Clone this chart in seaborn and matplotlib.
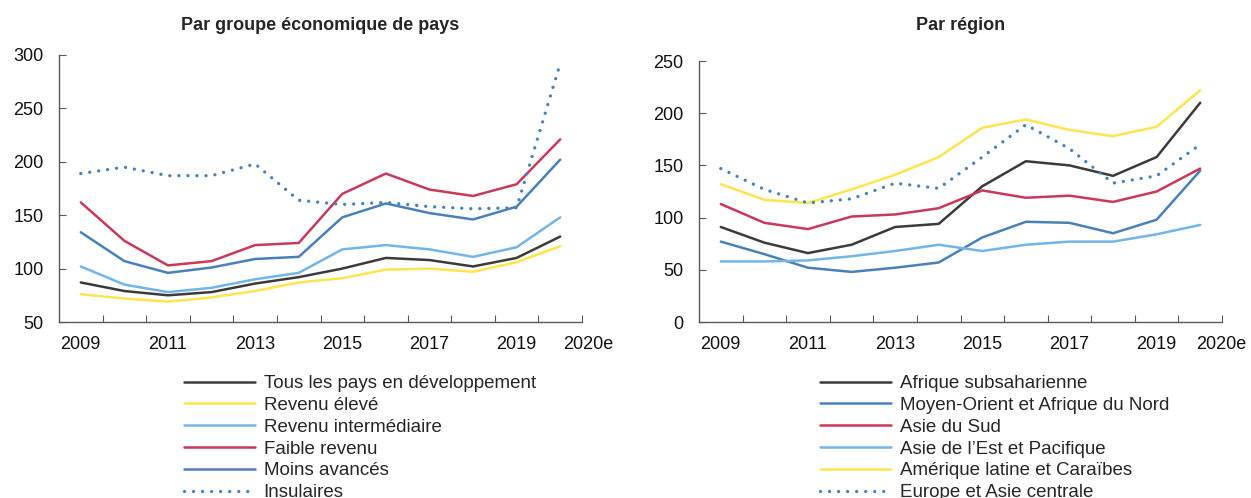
import matplotlib
matplotlib.use("Agg")
import matplotlib.pyplot as plt
import matplotlib.transforms as mtransforms
import numpy as np
import seaborn as sns

years = ["2009", "2010", "2011", "2012", "2013", "2014",
         "2015", "2016", "2017", "2018", "2019", "2020e"]

# left panel: by economic group
tous_pays = [87, 79, 75, 78, 86, 92, 100, 110, 108, 102, 110, 130]
revenu_eleve = [76, 72, 69, 73, 79, 87, 91, 99, 100, 97, 106, 121]
revenu_interm = [102, 85, 78, 82, 90, 96, 118, 122, 118, 111, 120, 148]
faible_revenu = [162, 126, 103, 107, 122, 124, 170, 189, 174, 168, 179, 221]
moins_avances = [134, 107, 96, 101, 109, 111, 148, 161, 152, 146, 158, 202]
insulaires = [189, 195, 187, 187, 198, 164, 160, 162, 158, 156, 157, 292]

# right panel: by region
afrique_sub = [91, 76, 66, 74, 91, 94, 130, 154, 150, 140, 158, 210]
moyen_orient = [77, 65, 52, 48, 52, 57, 81, 96, 95, 85, 98, 145]
asie_sud = [113, 95, 89, 101, 103, 109, 126, 119, 121, 115, 125, 147]
asie_est = [58, 58, 59, 63, 68, 74, 68, 74, 77, 77, 84, 93]
amerique_lat = [132, 117, 114, 127, 141, 158, 186, 194, 184, 178, 187, 222]
europe_asie = [147, 127, 114, 118, 133, 128, 158, 189, 166, 133, 140, 170]

BLACK = "#3d3a3a"
YELLOW = "#fde54f"
LIGHT_BLUE = "#72b5e6"
RED = "#c9395a"
BLUE = "#4a80b8"
AXIS = "#595959"

sns.set_theme(style="white")
plt.rcParams["font.family"] = ["Liberation Sans", "DejaVu Sans"]

DOTTED = (0, (0.01, 2.7))


def draw_panel(ax, series, yticks, label_shift):
    x = np.arange(len(years))
    for label, values, color, dotted in series:
        if dotted:
            sns.lineplot(x=x, y=values, ax=ax, color=color, label=label,
                         linewidth=2.4, linestyle=DOTTED,
                         dash_capstyle="round")
        else:
            sns.lineplot(x=x, y=values, ax=ax, color=color, label=label,
                         linewidth=1.8)
    ax.set_xlim(-0.5, len(years) - 0.5)
    ax.set_ylim(yticks[0], yticks[-1])
    ax.set_yticks(yticks)
    shown = [y if (i % 2 == 0 or i == len(years) - 1) else ""
             for i, y in enumerate(years)]
    ax.set_xticks(x)
    ax.set_xticklabels(shown)
    ax.set_xticks(np.arange(0.5, len(years), 1), minor=True)
    ax.tick_params(axis="x", which="major", length=0, pad=10,
                   labelsize=13, labelcolor="#111111")
    ax.tick_params(axis="x", which="minor", direction="in", length=5,
                   width=0.8, color=AXIS, bottom=True)
    ax.tick_params(axis="y", direction="in", length=5, width=0.8,
                   color=AXIS, pad=11, labelsize=13, labelcolor="#111111",
                   left=True)
    for side in ("top", "right"):
        ax.spines[side].set_visible(False)
    for side in ("left", "bottom"):
        ax.spines[side].set_color(AXIS)
        ax.spines[side].set_linewidth(1.0)
    ax.set_xlabel("")
    ax.set_ylabel("")
    last = ax.get_xticklabels()[-1]
    offset = mtransforms.ScaledTranslation(label_shift / 100, 0,
                                           ax.figure.dpi_scale_trans)
    last.set_transform(last.get_transform() + offset)


fig = plt.figure(figsize=(12.51, 4.98), dpi=100)
ax_left = fig.add_axes([59 / 1251, 1 - 322 / 498, 523 / 1251, 267 / 498])
ax_right = fig.add_axes([699 / 1251, 1 - 322 / 498, 523 / 1251, 261 / 498])

left_series = [
    ("Tous les pays en développement", tous_pays, BLACK, False),
    ("Revenu élevé", revenu_eleve, YELLOW, False),
    ("Revenu intermédiaire", revenu_interm, LIGHT_BLUE, False),
    ("Faible revenu", faible_revenu, RED, False),
    ("Moins avancés", moins_avances, BLUE, False),
    ("Insulaires", insulaires, BLUE, True),
]
right_series = [
    ("Afrique subsaharienne", afrique_sub, BLACK, False),
    ("Moyen-Orient et Afrique du Nord", moyen_orient, BLUE, False),
    ("Asie du Sud", asie_sud, RED, False),
    ("Asie de l’Est et Pacifique", asie_est, LIGHT_BLUE, False),
    ("Amérique latine et Caraïbes", amerique_lat, YELLOW, False),
    ("Europe et Asie centrale", europe_asie, BLUE, True),
]

draw_panel(ax_left, left_series, [50, 100, 150, 200, 250, 300], 28)
draw_panel(ax_right, right_series, [0, 50, 100, 150, 200, 250], 21)

for ax, x0 in ((ax_left, 184), (ax_right, 820)):
    ax.legend(loc="upper left", bbox_to_anchor=(x0 / 1251, 1 - 375 / 498),
              bbox_transform=fig.transFigure, frameon=False, fontsize=13.5,
              borderpad=0, borderaxespad=0, handlelength=3.8,
              handletextpad=0.45, labelspacing=0.25)

fig.text(320 / 1251, 1 - 26 / 498, "Par groupe économique de pays",
         ha="center", va="center", fontsize=13, fontweight="bold")
fig.text(961 / 1251, 1 - 26 / 498, "Par région",
         ha="center", va="center", fontsize=13, fontweight="bold")

fig.savefig("out.png", dpi=100)
